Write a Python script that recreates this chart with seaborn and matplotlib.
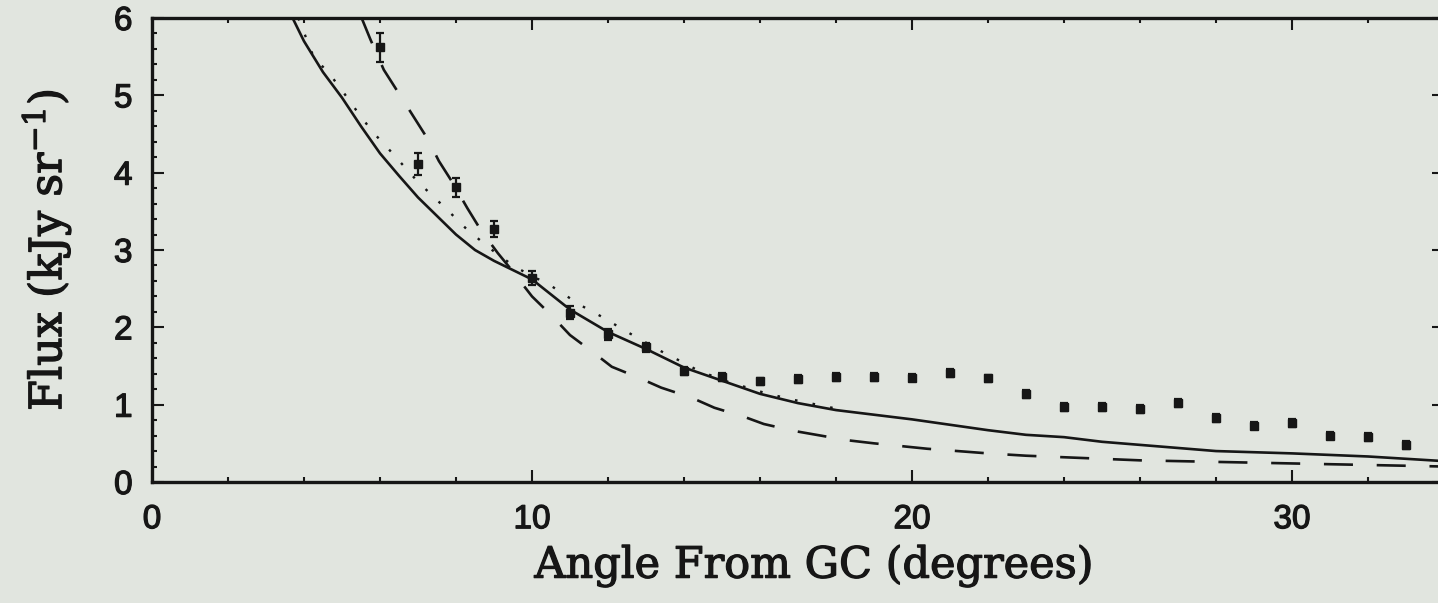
import numpy as np
import pandas as pd
import matplotlib
matplotlib.use("Agg")
import matplotlib.pyplot as plt
import matplotlib.patheffects as pe
from matplotlib.ticker import MultipleLocator
import seaborn as sns

# Measured flux per angular bin
angle_pts = list(range(6, 34))
flux_pts = [5.62, 4.11, 3.81, 3.27, 2.64, 2.19, 1.91, 1.74, 1.44, 1.36,
            1.30, 1.33, 1.36, 1.36, 1.35, 1.41, 1.34, 1.14, 0.97, 0.97,
            0.94, 1.02, 0.83, 0.73, 0.76, 0.60, 0.58, 0.48]
flux_err = [0.19, 0.14, 0.12, 0.10, 0.09, 0.08, 0.07, 0.06, 0.05, 0.05,
            0.05, 0.05, 0.05, 0.05, 0.05, 0.05, 0.05, 0.05, 0.05, 0.05,
            0.05, 0.05, 0.05, 0.05, 0.05, 0.05, 0.05, 0.05]

# Model curves
solid_x = [3.7, 4.0, 4.5, 5.0, 5.5, 6.0, 6.5, 7.0, 7.5, 8.0, 8.5, 9.0, 9.5,
           10, 11, 12, 13, 14, 15, 16, 17, 18, 19, 20, 21, 22, 23, 24, 25,
           26, 28, 30, 32, 34]
solid_y = [6.0, 5.70, 5.30, 4.97, 4.60, 4.25, 3.96, 3.68, 3.44, 3.20, 3.00,
           2.86, 2.74, 2.62, 2.23, 1.94, 1.72, 1.48, 1.31, 1.14, 1.02, 0.93,
           0.87, 0.81, 0.74, 0.67, 0.61, 0.58, 0.52, 0.48, 0.40, 0.37, 0.33,
           0.27]

dash_x = [5.5, 5.75, 6.1, 6.45, 6.85, 7.25, 7.55, 7.9, 8.3, 8.65, 9.1, 9.4,
          10.0, 10.5, 11.0, 11.6, 12.1, 12.8, 13.4, 14.2, 14.8, 15.6, 16.1,
          16.9, 17.6, 18.3, 19.0, 19.8, 20.4, 21.2, 22.0, 23.0, 24.0, 26,
          28, 30, 32, 34]
dash_y = [6.02, 5.72, 5.33, 5.06, 4.75, 4.44, 4.15, 3.88, 3.54, 3.26, 2.96,
          2.78, 2.40, 2.16, 1.90, 1.68, 1.49, 1.35, 1.22, 1.09, 0.96, 0.84,
          0.75, 0.66, 0.60, 0.54, 0.50, 0.46, 0.43, 0.40, 0.37, 0.34, 0.32,
          0.28, 0.26, 0.24, 0.22, 0.20]

dot_x = [3.85, 4.25, 4.7, 5.05, 5.4, 5.8, 6.2, 6.6, 7.0, 7.45, 7.85, 8.3,
         9.0, 9.5, 10.0, 10.4, 10.8, 11.3, 11.9, 12.4, 13.4, 14.0, 14.3,
         15.0, 16.0, 16.3, 17.0, 18.0]
dot_y = [6.0, 5.50, 5.26, 5.03, 4.79, 4.53, 4.32, 4.10, 3.88, 3.67, 3.48,
         3.26, 2.98, 2.80, 2.66, 2.57, 2.44, 2.28, 2.12, 1.97, 1.69, 1.54,
         1.46, 1.32, 1.17, 1.13, 1.05, 0.95]

x_ticks = [0, 10, 20, 30]
y_ticks = [0, 1, 2, 3, 4, 5, 6]

bg = "#e1e5df"
ink = "#161616"

sns.set_theme(style="ticks")
plt.rcParams.update({
    "figure.facecolor": bg,
    "axes.facecolor": bg,
    "axes.edgecolor": ink,
    "text.color": ink,
    "axes.labelcolor": ink,
    "xtick.color": ink,
    "ytick.color": ink,
    "mathtext.fontset": "dejavuserif",
})

fig = plt.figure(figsize=(14.38, 6.03), dpi=100)
ax = fig.add_axes([152 / 1438, 121 / 603, 1292 / 1438, 464 / 603])

solid_df = pd.DataFrame({"x": solid_x, "y": solid_y})
dash_df = pd.DataFrame({"x": dash_x, "y": dash_y})
dot_df = pd.DataFrame({"x": dot_x, "y": dot_y})

sns.lineplot(data=solid_df, x="x", y="y", ax=ax, color=ink, lw=1.9,
             estimator=None, sort=False)
sns.lineplot(data=dash_df, x="x", y="y", ax=ax, color=ink, lw=1.9,
             estimator=None, sort=False)
ax.lines[-1].set_dashes((11, 9))
sns.lineplot(data=dot_df, x="x", y="y", ax=ax, color=ink, lw=1.7,
             estimator=None, sort=False)
ax.lines[-1].set_dashes((1.1, 6.5))

ax.errorbar(angle_pts, flux_pts, yerr=flux_err, fmt="s", ms=5.5,
            color=ink, mec=ink, elinewidth=1.6, capsize=3.2, capthick=1.6,
            zorder=5)

ax.set_xlim(0, 34)
ax.set_ylim(0, 6)
ax.set_xticks(x_ticks)
ax.set_yticks(y_ticks)
ax.xaxis.set_minor_locator(MultipleLocator(2))
ax.yaxis.set_minor_locator(MultipleLocator(0.2))

for side in ["top", "bottom", "left", "right"]:
    ax.spines[side].set_linewidth(2.4)

ax.tick_params(which="both", direction="in", top=True, right=True,
               width=1.5)
ax.tick_params(which="major", length=8.6)
ax.tick_params(which="minor", length=3.4)
ax.tick_params(axis="x", which="major", pad=16)
ax.tick_params(axis="y", which="major", pad=14)

heavy = [pe.withStroke(linewidth=0.9, foreground=ink)]
for lab in ax.get_xticklabels() + ax.get_yticklabels():
    lab.set_fontfamily("Liberation Sans")
    lab.set_fontsize(24)
    lab.set_path_effects(heavy)

ax.set_xlabel("Angle From GC (degrees)", fontfamily="DejaVu Serif",
              fontsize=31, path_effects=heavy)
ax.set_ylabel(r"Flux (kJy sr$^{-1}$)", fontfamily="DejaVu Serif",
              fontsize=32, path_effects=heavy)
ax.xaxis.set_label_coords(0.512, -0.135)
ax.yaxis.set_label_coords(-0.061, 0.5)

fig.savefig("out.png", dpi=100, facecolor=bg)
